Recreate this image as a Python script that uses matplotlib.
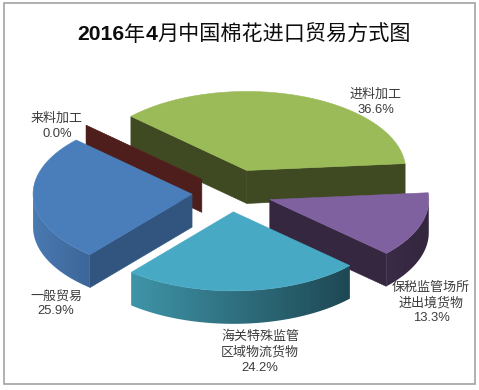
import numpy as np
import matplotlib
matplotlib.use('Agg')
import matplotlib.pyplot as plt
from matplotlib.colors import LinearSegmentedColormap
from matplotlib.patches import Polygon, Rectangle

# Slices in clockwise order, starting from the right edge of the purple one
labels = ['保税监管场所\n进出境货物', '海关特殊监管\n区域物流货物', '一般贸易', '来料加工', '进料加工']
shares = [13.3, 24.2, 25.9, 0.0, 36.6]
title_parts = [('2016', 'bold'), ('年', 'normal'), ('4', 'bold'), ('月中国棉花进口贸易方式图', 'normal')]

top_colors = ['#8061a0', '#47a9c4', '#4a7ebb', '#5a2320', '#9bbb59']
cut_colors = ['#35273f', '#1f4a57', '#31557f', '#4d1e1b', '#3f4a22']
side_right = ['#33263e', '#1e4853', '#3c6698', '#4d1e1b', '#3f4a22']
side_left = ['#3a2b47', '#3f94a8', '#4a7ab2', '#4d1e1b', '#3f4a22']
explode = [41, 38, 39, 40, 48]
draw_order = [4, 3, 0, 2, 1]
label_pos = [(431, 303), (260, 352), (56, 304), (57, 126), (376, 102)]

cx, cy = 231, 193
rx, ry = 159, 79
depth = 33
start_angle = -5

plt.rcParams['font.family'] = ['Liberation Sans', 'Noto Sans CJK SC']

fig = plt.figure(figsize=(4.79, 3.90), dpi=100)
ax = fig.add_axes([0, 0, 1, 1])

ax.add_patch(Rectangle((4.5, 3), 470.5, 381, fc='white', ec='#a3a3a3', lw=1.2, zorder=0))

edges = start_angle + np.concatenate([[0], np.cumsum(shares)]) * 3.6


def rim(x0, y0, angles):
    a = np.radians(angles)
    return np.column_stack([x0 + rx * np.cos(a), y0 + ry * np.sin(a)])


z = 1
for i in draw_order:
    s, e = edges[i], edges[i + 1]
    mid = np.radians((s + e) / 2)
    x0 = cx + explode[i] * np.cos(mid)
    y0 = cy + explode[i] * ry / rx * np.sin(mid)
    drop = np.array([0, depth])
    apex = np.array([x0, y0])

    # flat cut faces, only the ones turned towards the viewer
    for ang, normal in ((s, s - 90), (e, e + 90)):
        if np.sin(np.radians(normal)) > 0:
            p = rim(x0, y0, [ang])[0]
            ax.add_patch(Polygon([apex, p, p + drop, apex + drop],
                                 fc=cut_colors[i], ec=cut_colors[i], lw=0.4, zorder=z))
            z += 1

    # curved outer wall, front half only, shaded left to right
    lo, hi = max(s, 0), min(e, 180)
    if hi > lo:
        pts = rim(x0, y0, np.linspace(lo, hi, 80))
        wall = Polygon(np.vstack([pts, pts[::-1] + drop]), transform=ax.transData)
        cmap = LinearSegmentedColormap.from_list('wall', [side_left[i], side_right[i]])
        im = ax.imshow(np.linspace(0, 1, 256)[None, :], cmap=cmap, aspect='auto', zorder=z,
                       extent=(pts[:, 0].min(), pts[:, 0].max(), pts[:, 1].max() + depth, pts[:, 1].min()))
        im.set_clip_path(wall)
        z += 1

    th = np.linspace(s, e, 120)
    ax.add_patch(Polygon(np.vstack([apex, rim(x0, y0, th)]),
                         fc=top_colors[i], ec=top_colors[i], lw=0.4, zorder=z))
    z += 1

ax.set_xlim(0, 479)
ax.set_ylim(390, 0)
ax.axis('off')

for name, share, (x, y) in zip(labels, shares, label_pos):
    ax.text(x, y, name + '\n' + f'{share:.1f}%', fontsize=9.4, color='#3c3c3c',
            ha='center', va='center', linespacing=1.32, zorder=z)

# title mixes bold digits and regular CJK, so place the runs one after another
renderer = fig.canvas.get_renderer()
tx = 77
for part, weight in title_parts:
    t = ax.text(tx, 35, part, fontsize=15.2, color='#0d0d0d', fontweight=weight,
                ha='left', va='center', zorder=z,
                family=['Liberation Sans', 'Noto Sans CJK SC'])
    tx = t.get_window_extent(renderer).x1

fig.savefig('out.png', dpi=100)
